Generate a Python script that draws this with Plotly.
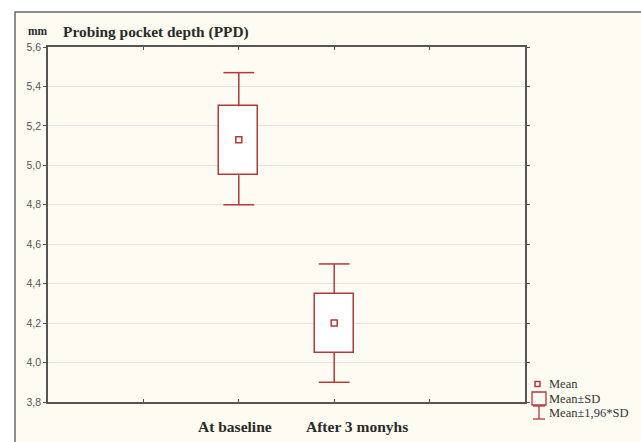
import plotly.graph_objects as go

# ---- data ----
categories = ["At baseline", "After 3 monyhs"]
cat_pos = [2, 3]
means = [5.13, 4.20]
sd_low = [4.95, 4.05]
sd_high = [5.30, 4.35]
ci_low = [4.80, 3.90]
ci_high = [5.47, 4.50]
y_ticks = [3.8, 4.0, 4.2, 4.4, 4.6, 4.8, 5.0, 5.2, 5.4, 5.6]
legend_labels = ["Mean", "Mean±SD", "Mean±1,96*SD"]

RED = "#b03a3a"
W, H = 641, 442
L, R, T, B = 48, 525, 47, 402


def px2x(px):
    return (px - L) / (R - L)


def py2y(py):
    return (B - py) / (B - T)


fig = go.Figure()

# SD boxes
fig.add_trace(go.Bar(
    x=cat_pos,
    y=[h - l for h, l in zip(sd_high, sd_low)],
    base=sd_low,
    width=0.41,
    marker=dict(color="white", line=dict(color=RED, width=1.5)),
    hoverinfo="skip",
    showlegend=False,
))
# whisker stems
wx, wy = [], []
for p, sl, sh, cl, ch in zip(cat_pos, sd_low, sd_high, ci_low, ci_high):
    wx += [p, p, None, p, p, None]
    wy += [sh, ch, None, sl, cl, None]
fig.add_trace(go.Scatter(
    x=wx, y=wy, mode="lines", line=dict(color=RED, width=1.5),
    showlegend=False, hoverinfo="skip",
))
# whisker caps
fig.add_trace(go.Scatter(
    x=cat_pos + cat_pos, y=ci_high + ci_low, mode="markers",
    marker=dict(symbol="line-ew", size=22, color=RED, line=dict(color=RED, width=1.5)),
    showlegend=False, hoverinfo="skip",
))
# means
fig.add_trace(go.Scatter(
    x=cat_pos, y=means, mode="markers",
    marker=dict(symbol="square-open", size=6, color=RED, line=dict(width=1.5)),
    showlegend=False,
))

shapes = []
# outer cream frame
shapes.append(dict(type="rect", xref="paper", yref="paper", layer="below",
                   x0=px2x(15), x1=px2x(W + 5), y0=py2y(H + 5), y1=py2y(12),
                   fillcolor="#fdfbf2", line=dict(color="#6a6a6a", width=1.5)))

# legend symbols
shapes.append(dict(type="rect", xref="paper", yref="paper",
                   x0=px2x(535), x1=px2x(540), y0=py2y(386.5), y1=py2y(381.5),
                   line=dict(color=RED, width=1.5), fillcolor="rgba(0,0,0,0)"))
shapes.append(dict(type="rect", xref="paper", yref="paper",
                   x0=px2x(532), x1=px2x(546), y0=py2y(405), y1=py2y(392),
                   line=dict(color=RED, width=1.3), fillcolor="rgba(0,0,0,0)"))
shapes.append(dict(type="line", xref="paper", yref="paper",
                   x0=px2x(539), x1=px2x(539), y0=py2y(419), y1=py2y(406),
                   line=dict(color=RED, width=1.3)))
shapes.append(dict(type="line", xref="paper", yref="paper",
                   x0=px2x(533), x1=px2x(545), y0=py2y(406), y1=py2y(406),
                   line=dict(color=RED, width=1.3)))
shapes.append(dict(type="line", xref="paper", yref="paper",
                   x0=px2x(533), x1=px2x(545), y0=py2y(419), y1=py2y(419),
                   line=dict(color=RED, width=1.3)))

annotations = []
serif = "Liberation Serif"
annotations.append(dict(text="<b>Probing pocket depth (PPD)</b>", xref="paper", yref="paper",
                        x=px2x(61), y=py2y(32), xanchor="left", yanchor="middle",
                        showarrow=False, font=dict(family=serif, size=15.4, color="#2a2a2a")))
annotations.append(dict(text="<b>mm</b>", xref="paper", yref="paper",
                        x=px2x(26), y=py2y(31), xanchor="left", yanchor="middle",
                        showarrow=False, font=dict(family=serif, size=11.5, color="#2a2a2a")))
label_offsets = [-0.04, 0.24]
for c, p, off in zip(categories, cat_pos, label_offsets):
    annotations.append(dict(text="<b>" + c + "</b>", xref="x", yref="paper",
                            x=p + off, y=py2y(427), xanchor="center", yanchor="middle",
                            showarrow=False, font=dict(family=serif, size=15.5, color="#2a2a2a")))
for lab, py in zip(legend_labels, [384, 399, 413]):
    annotations.append(dict(text=lab, xref="paper", yref="paper",
                            x=px2x(547), y=py2y(py), xanchor="left", yanchor="middle",
                            showarrow=False, font=dict(family=serif, size=12.5, color="#333333")))

fig.update_layout(
    width=W, height=H,
    margin=dict(l=L, r=W - R, t=T, b=H - B, pad=0),
    paper_bgcolor="white",
    plot_bgcolor="white",
    separators=", ",
    shapes=shapes,
    annotations=annotations,
    bargap=0,
)
fig.update_xaxes(
    range=[0, 5], tickvals=[1, 2, 3, 4], ticktext=["", "", "", ""],
    showgrid=False, zeroline=False,
    showline=True, linecolor="#555555", linewidth=1.5, mirror="ticks",
    ticks="inside", ticklen=3, tickcolor="#555555",
)
fig.update_yaxes(
    range=[3.8, 5.6], tickvals=y_ticks, tickformat=".1f",
    showgrid=True, gridcolor="#e4e4e4", gridwidth=1, zeroline=False,
    showline=True, linecolor="#555555", linewidth=1.5, mirror="ticks",
    ticks="outside", ticklen=3, tickcolor="#555555",
    tickfont=dict(family="Liberation Sans", size=10.5, color="#555555"),
)

fig.write_html("out.html")
